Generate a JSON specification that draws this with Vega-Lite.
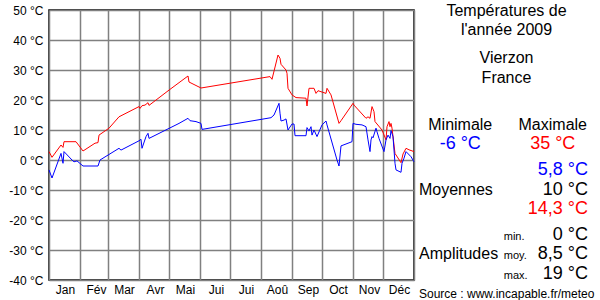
{
  "$schema": "https://vega.github.io/schema/vega-lite/v6.json",
  "background": "white",
  "padding": {"left": 8, "top": 2, "right": 0, "bottom": 0},
  "spacing": 0,
  "bounds": "flush",
  "config": {"font": "Liberation Sans", "view": {"stroke": null}, "text": {"font": "Liberation Sans"}},
  "datasets": {
    "temps": [
      {"day": 0, "temp": 2.8, "serie": "max"},
      {"day": 3, "temp": 0.9, "serie": "max"},
      {"day": 12, "temp": 5.0, "serie": "max"},
      {"day": 14, "temp": 4.2, "serie": "max"},
      {"day": 15, "temp": 6.1, "serie": "max"},
      {"day": 27, "temp": 6.1, "serie": "max"},
      {"day": 34, "temp": 3.0, "serie": "max"},
      {"day": 46, "temp": 5.6, "serie": "max"},
      {"day": 49, "temp": 5.8, "serie": "max"},
      {"day": 50, "temp": 8.3, "serie": "max"},
      {"day": 60, "temp": 10.6, "serie": "max"},
      {"day": 70, "temp": 14.4, "serie": "max"},
      {"day": 90, "temp": 17.8, "serie": "max"},
      {"day": 91, "temp": 17.2, "serie": "max"},
      {"day": 93, "temp": 18.1, "serie": "max"},
      {"day": 96, "temp": 18.3, "serie": "max"},
      {"day": 99, "temp": 19.1, "serie": "max"},
      {"day": 100, "temp": 18.2, "serie": "max"},
      {"day": 120, "temp": 23.3, "serie": "max"},
      {"day": 139, "temp": 28.0, "serie": "max"},
      {"day": 140, "temp": 26.0, "serie": "max"},
      {"day": 152, "temp": 24.0, "serie": "max"},
      {"day": 221, "temp": 27.8, "serie": "max"},
      {"day": 223, "temp": 26.9, "serie": "max"},
      {"day": 229, "temp": 35.0, "serie": "max"},
      {"day": 231, "temp": 33.9, "serie": "max"},
      {"day": 232, "temp": 31.9, "serie": "max"},
      {"day": 237, "temp": 30.0, "serie": "max"},
      {"day": 238, "temp": 28.9, "serie": "max"},
      {"day": 239, "temp": 23.9, "serie": "max"},
      {"day": 243, "temp": 21.7, "serie": "max"},
      {"day": 247, "temp": 20.8, "serie": "max"},
      {"day": 257, "temp": 20.6, "serie": "max"},
      {"day": 258, "temp": 18.0, "serie": "max"},
      {"day": 260, "temp": 23.9, "serie": "max"},
      {"day": 265, "temp": 23.9, "serie": "max"},
      {"day": 267, "temp": 22.2, "serie": "max"},
      {"day": 269, "temp": 23.1, "serie": "max"},
      {"day": 277, "temp": 22.2, "serie": "max"},
      {"day": 278, "temp": 23.9, "serie": "max"},
      {"day": 282, "temp": 21.7, "serie": "max"},
      {"day": 290, "temp": 12.2, "serie": "max"},
      {"day": 292, "temp": 13.1, "serie": "max"},
      {"day": 304, "temp": 18.9, "serie": "max"},
      {"day": 305, "temp": 18.3, "serie": "max"},
      {"day": 317, "temp": 13.9, "serie": "max"},
      {"day": 319, "temp": 14.4, "serie": "max"},
      {"day": 321, "temp": 13.9, "serie": "max"},
      {"day": 323, "temp": 17.8, "serie": "max"},
      {"day": 325, "temp": 16.1, "serie": "max"},
      {"day": 326, "temp": 12.8, "serie": "max"},
      {"day": 333, "temp": 10.0, "serie": "max"},
      {"day": 337, "temp": 6.7, "serie": "max"},
      {"day": 338, "temp": 11.1, "serie": "max"},
      {"day": 340, "temp": 12.8, "serie": "max"},
      {"day": 341, "temp": 11.1, "serie": "max"},
      {"day": 342, "temp": 12.2, "serie": "max"},
      {"day": 343, "temp": 10.6, "serie": "max"},
      {"day": 346, "temp": 2.2, "serie": "max"},
      {"day": 352, "temp": -0.9, "serie": "max"},
      {"day": 354, "temp": 2.0, "serie": "max"},
      {"day": 357, "temp": 3.9, "serie": "max"},
      {"day": 360, "temp": 3.4, "serie": "max"},
      {"day": 365, "temp": 2.8, "serie": "max"},
      {"day": 0, "temp": -3.3, "serie": "min"},
      {"day": 3, "temp": -6.0, "serie": "min"},
      {"day": 12, "temp": 2.2, "serie": "min"},
      {"day": 14, "temp": -1.1, "serie": "min"},
      {"day": 15, "temp": 2.8, "serie": "min"},
      {"day": 23, "temp": 0.0, "serie": "min"},
      {"day": 25, "temp": -0.6, "serie": "min"},
      {"day": 28, "temp": -0.3, "serie": "min"},
      {"day": 34, "temp": -2.0, "serie": "min"},
      {"day": 49, "temp": -2.0, "serie": "min"},
      {"day": 51, "temp": 0.0, "serie": "min"},
      {"day": 70, "temp": 3.9, "serie": "min"},
      {"day": 72, "temp": 3.3, "serie": "min"},
      {"day": 90, "temp": 6.4, "serie": "min"},
      {"day": 92, "temp": 6.9, "serie": "min"},
      {"day": 93, "temp": 3.9, "serie": "min"},
      {"day": 97, "temp": 7.8, "serie": "min"},
      {"day": 99, "temp": 8.9, "serie": "min"},
      {"day": 100, "temp": 7.2, "serie": "min"},
      {"day": 130, "temp": 12.2, "serie": "min"},
      {"day": 139, "temp": 13.9, "serie": "min"},
      {"day": 141, "temp": 13.1, "serie": "min"},
      {"day": 147, "temp": 12.8, "serie": "min"},
      {"day": 152, "temp": 12.2, "serie": "min"},
      {"day": 153, "temp": 10.2, "serie": "min"},
      {"day": 222, "temp": 14.1, "serie": "min"},
      {"day": 225, "temp": 15.0, "serie": "min"},
      {"day": 230, "temp": 18.9, "serie": "min"},
      {"day": 231, "temp": 15.6, "serie": "min"},
      {"day": 232, "temp": 13.0, "serie": "min"},
      {"day": 235, "temp": 13.3, "serie": "min"},
      {"day": 237, "temp": 13.7, "serie": "min"},
      {"day": 239, "temp": 10.0, "serie": "min"},
      {"day": 243, "temp": 12.0, "serie": "min"},
      {"day": 245, "temp": 12.0, "serie": "min"},
      {"day": 246, "temp": 8.1, "serie": "min"},
      {"day": 257, "temp": 8.1, "serie": "min"},
      {"day": 258, "temp": 10.8, "serie": "min"},
      {"day": 260, "temp": 9.7, "serie": "min"},
      {"day": 262, "temp": 11.1, "serie": "min"},
      {"day": 263, "temp": 8.3, "serie": "min"},
      {"day": 265, "temp": 10.0, "serie": "min"},
      {"day": 268, "temp": 7.8, "serie": "min"},
      {"day": 273, "temp": 11.7, "serie": "min"},
      {"day": 277, "temp": 13.0, "serie": "min"},
      {"day": 278, "temp": 11.7, "serie": "min"},
      {"day": 288, "temp": 0.0, "serie": "min"},
      {"day": 290, "temp": -2.0, "serie": "min"},
      {"day": 292, "temp": 4.7, "serie": "min"},
      {"day": 303, "temp": 6.1, "serie": "min"},
      {"day": 304, "temp": 12.2, "serie": "min"},
      {"day": 307, "temp": 11.9, "serie": "min"},
      {"day": 313, "temp": 11.7, "serie": "min"},
      {"day": 317, "temp": 11.1, "serie": "min"},
      {"day": 319, "temp": 6.7, "serie": "min"},
      {"day": 321, "temp": 2.8, "serie": "min"},
      {"day": 322, "temp": 6.7, "serie": "min"},
      {"day": 323, "temp": 7.8, "serie": "min"},
      {"day": 324, "temp": 7.4, "serie": "min"},
      {"day": 327, "temp": 10.6, "serie": "min"},
      {"day": 328, "temp": 9.4, "serie": "min"},
      {"day": 330, "temp": 7.2, "serie": "min"},
      {"day": 335, "temp": 2.8, "serie": "min"},
      {"day": 337, "temp": 6.7, "serie": "min"},
      {"day": 339, "temp": 8.3, "serie": "min"},
      {"day": 341, "temp": 7.2, "serie": "min"},
      {"day": 342, "temp": 9.8, "serie": "min"},
      {"day": 344, "temp": 7.8, "serie": "min"},
      {"day": 346, "temp": -1.1, "serie": "min"},
      {"day": 347, "temp": -3.3, "serie": "min"},
      {"day": 352, "temp": -4.1, "serie": "min"},
      {"day": 353, "temp": -1.1, "serie": "min"},
      {"day": 355, "temp": 0.6, "serie": "min"},
      {"day": 357, "temp": 2.8, "serie": "min"},
      {"day": 362, "temp": 1.1, "serie": "min"},
      {"day": 365, "temp": -0.6, "serie": "min"}
    ]
  },
  "hconcat": [
    {
      "width": 365,
      "height": 270,
      "data": {"name": "temps"},
      "view": {"stroke": "black", "strokeWidth": 1.5},
      "mark": {"type": "line", "strokeWidth": 1},
      "encoding": {
        "x": {
          "field": "day", "type": "quantitative",
          "scale": {"domain": [0, 365], "nice": false, "zero": false},
          "axis": {
            "title": null,
            "values": [0, 31, 59, 90, 120, 151, 181, 212, 243, 273, 304, 334, 365],
            "labelExpr": "datum.value >= 365 ? '' : ['Jan','Fév','Mar','Avr','Mai','Jui','Jui','Aoû','Sep','Oct','Nov','Déc'][indexof([0,31,59,90,120,151,181,212,243,273,304,334], datum.value)]",
            "labelOffset": 16,
            "labelFlush": false,
            "labelOverlap": false,
            "labelAngle": 0,
            "labelPadding": 4,
            "labelFontSize": 12,
            "labelColor": "black",
            "labelFont": "Liberation Sans",
            "grid": true,
            "gridColor": "#808080",
            "gridWidth": 1.5,
            "ticks": false,
            "domain": false
          }
        },
        "y": {
          "field": "temp", "type": "quantitative",
          "scale": {"domain": [-40, 50], "nice": false, "zero": false},
          "axis": {
            "title": null,
            "values": [-40, -30, -20, -10, 0, 10, 20, 30, 40, 50],
            "labelExpr": "datum.value + ' °C'",
            "labelFlush": false,
            "labelOverlap": false,
            "labelPadding": 6,
            "labelFontSize": 12,
            "labelColor": "black",
            "labelFont": "Liberation Sans",
            "grid": true,
            "gridColor": "#808080",
            "gridWidth": 1.5,
            "ticks": false,
            "domain": false
          }
        },
        "color": {
          "field": "serie", "type": "nominal",
          "scale": {"domain": ["min", "max"], "range": ["#0000ff", "#ff0000"]},
          "legend": null
        }
      }
    },
    {
      "width": 185,
      "height": 270,
      "data": {"values": [{}]},
      "view": {"stroke": null},
      "encoding": {
        "x": {"type": "quantitative", "scale": {"domain": [0, 10], "nice": false, "zero": false}, "axis": null},
        "y": {"type": "quantitative", "scale": {"domain": [0, 27], "nice": false, "zero": false, "reverse": true}, "axis": null}
      },
      "layer": [
        {"mark": {"type": "text", "fontSize": 16, "align": "center", "baseline": "alphabetic", "color": "black"},
         "encoding": {"x": {"datum": 5}, "y": {"datum": 0.55}, "text": {"value": "Températures de"}}},
        {"mark": {"type": "text", "fontSize": 16, "align": "center", "baseline": "alphabetic", "color": "black"},
         "encoding": {"x": {"datum": 5}, "y": {"datum": 2.5}, "text": {"value": "l'année 2009"}}},
        {"mark": {"type": "text", "fontSize": 16, "align": "center", "baseline": "alphabetic", "color": "black"},
         "encoding": {"x": {"datum": 5}, "y": {"datum": 5.27}, "text": {"value": "Vierzon"}}},
        {"mark": {"type": "text", "fontSize": 16, "align": "center", "baseline": "alphabetic", "color": "black"},
         "encoding": {"x": {"datum": 5}, "y": {"datum": 7.27}, "text": {"value": "France"}}},
        {"mark": {"type": "text", "fontSize": 16, "align": "center", "baseline": "alphabetic", "color": "black"},
         "encoding": {"x": {"datum": 2.5}, "y": {"datum": 12}, "text": {"value": "Minimale"}}},
        {"mark": {"type": "text", "fontSize": 16, "align": "center", "baseline": "alphabetic", "color": "black"},
         "encoding": {"x": {"datum": 7.5}, "y": {"datum": 12}, "text": {"value": "Maximale"}}},
        {"mark": {"type": "text", "fontSize": 18, "align": "center", "baseline": "alphabetic", "color": "#0000ff"},
         "encoding": {"x": {"datum": 2.5}, "y": {"datum": 13.93}, "text": {"value": "-6 °C"}}},
        {"mark": {"type": "text", "fontSize": 18, "align": "center", "baseline": "alphabetic", "color": "#ff0000"},
         "encoding": {"x": {"datum": 7.5}, "y": {"datum": 13.93}, "text": {"value": "35 °C"}}},
        {"mark": {"type": "text", "fontSize": 18, "align": "right", "baseline": "alphabetic", "color": "#0000ff"},
         "encoding": {"x": {"datum": 9.4}, "y": {"datum": 16.5}, "text": {"value": "5,8 °C"}}},
        {"mark": {"type": "text", "fontSize": 16, "align": "left", "baseline": "alphabetic", "color": "black"},
         "encoding": {"x": {"datum": 0.27}, "y": {"datum": 18.5}, "text": {"value": "Moyennes"}}},
        {"mark": {"type": "text", "fontSize": 18, "align": "right", "baseline": "alphabetic", "color": "black"},
         "encoding": {"x": {"datum": 9.4}, "y": {"datum": 18.5}, "text": {"value": "10 °C"}}},
        {"mark": {"type": "text", "fontSize": 18, "align": "right", "baseline": "alphabetic", "color": "#ff0000"},
         "encoding": {"x": {"datum": 9.4}, "y": {"datum": 20.4}, "text": {"value": "14,3 °C"}}},
        {"mark": {"type": "text", "fontSize": 11, "align": "left", "baseline": "alphabetic", "color": "black"},
         "encoding": {"x": {"datum": 4.85}, "y": {"datum": 23}, "text": {"value": "min."}}},
        {"mark": {"type": "text", "fontSize": 18, "align": "right", "baseline": "alphabetic", "color": "black"},
         "encoding": {"x": {"datum": 9.4}, "y": {"datum": 23}, "text": {"value": "0 °C"}}},
        {"mark": {"type": "text", "fontSize": 16, "align": "left", "baseline": "alphabetic", "color": "black"},
         "encoding": {"x": {"datum": 0.27}, "y": {"datum": 24.93}, "text": {"value": "Amplitudes"}}},
        {"mark": {"type": "text", "fontSize": 11, "align": "left", "baseline": "alphabetic", "color": "black"},
         "encoding": {"x": {"datum": 4.85}, "y": {"datum": 24.93}, "text": {"value": "moy."}}},
        {"mark": {"type": "text", "fontSize": 18, "align": "right", "baseline": "alphabetic", "color": "black"},
         "encoding": {"x": {"datum": 9.4}, "y": {"datum": 24.93}, "text": {"value": "8,5 °C"}}},
        {"mark": {"type": "text", "fontSize": 11, "align": "left", "baseline": "alphabetic", "color": "black"},
         "encoding": {"x": {"datum": 4.85}, "y": {"datum": 26.93}, "text": {"value": "max."}}},
        {"mark": {"type": "text", "fontSize": 18, "align": "right", "baseline": "alphabetic", "color": "black"},
         "encoding": {"x": {"datum": 9.4}, "y": {"datum": 26.93}, "text": {"value": "19 °C"}}},
        {"mark": {"type": "text", "fontSize": 12, "align": "left", "baseline": "alphabetic", "color": "black"},
         "encoding": {"x": {"datum": 0.27}, "y": {"datum": 28.83}, "text": {"value": "Source : www.incapable.fr/meteo"}}}
      ]
    }
  ]
}
